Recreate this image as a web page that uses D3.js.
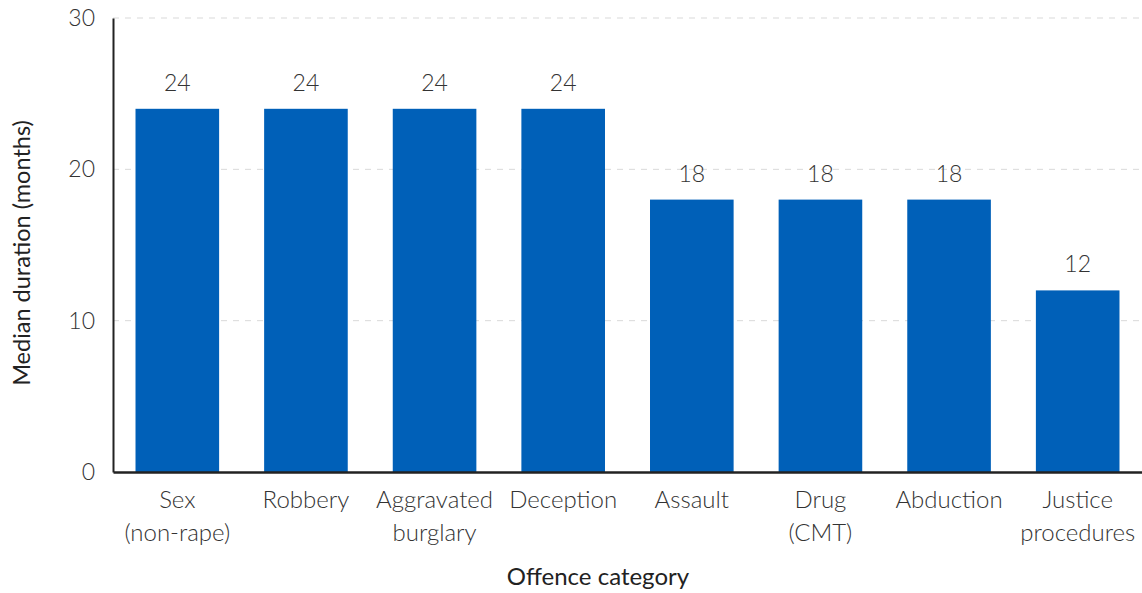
<!DOCTYPE html>
<html>
<head>
<meta charset="utf-8">
<script src="https://cdn.jsdelivr.net/npm/d3@7"></script>
<style>
  html, body { margin: 0; padding: 0; background: #fff; }
  svg { display: block; }
  text { font-family: Lato, "Open Sans", sans-serif; }
</style>
</head>
<body>
<svg id="chart" width="1142" height="593"></svg>
<script>
// Median duration of orders by offence category (months)
const categories = [
  ["Sex", "(non-rape)"],
  ["Robbery"],
  ["Aggravated", "burglary"],
  ["Deception"],
  ["Assault"],
  ["Drug", "(CMT)"],
  ["Abduction"],
  ["Justice", "procedures"]
];
const medianMonths = [24, 24, 24, 24, 18, 18, 18, 12];
const yTicks = [0, 10, 20, 30];

const W = 1142, H = 593;
const margin = { top: 18, right: 0, bottom: 121, left: 113 };
const svg = d3.select("#chart");

const keys = categories.map(c => c.join(" "));
const x = d3.scaleBand()
  .domain(keys)
  .range([margin.left, W - margin.right])
  .paddingInner(0.35)
  .paddingOuter(0.175);

const y = d3.scaleLinear()
  .domain([0, 30])
  .range([H - margin.bottom, margin.top]);

// dashed gridlines
svg.append("g")
  .selectAll("line")
  .data(yTicks.filter(d => d > 0))
  .join("line")
  .attr("x1", margin.left)
  .attr("x2", W - margin.right)
  .attr("y1", d => y(d))
  .attr("y2", d => y(d))
  .attr("stroke", "#d9d9d9")
  .attr("stroke-width", 1)
  .attr("stroke-dasharray", "6,6");

// bars
svg.append("g")
  .selectAll("rect")
  .data(medianMonths)
  .join("rect")
  .attr("x", (d, i) => x(keys[i]))
  .attr("y", d => y(d))
  .attr("width", x.bandwidth())
  .attr("height", d => y(0) - y(d))
  .attr("fill", "#0060b8");

// value labels
svg.append("g")
  .selectAll("text")
  .data(medianMonths)
  .join("text")
  .attr("x", (d, i) => x(keys[i]) + x.bandwidth() / 2)
  .attr("y", d => y(d) - 18)
  .attr("text-anchor", "middle")
  .attr("font-size", 23)
  .attr("font-weight", 300)
  .attr("fill", "#333")
  .text(d => d);

// y axis
const yAxis = d3.axisLeft(y).tickValues(yTicks).tickSize(0).tickPadding(18);
const gy = svg.append("g")
  .attr("transform", `translate(${margin.left},0)`)
  .call(yAxis);
gy.select(".domain").attr("stroke", "#222").attr("stroke-width", 2);
gy.selectAll(".tick text")
  .attr("font-size", 23)
  .attr("font-weight", 300)
  .attr("fill", "#333")
  .attr("font-family", "Lato, sans-serif");

// x axis
const xAxis = d3.axisBottom(x).tickSize(0).tickFormat("");
const gx = svg.append("g")
  .attr("transform", `translate(0,${y(0)})`)
  .call(xAxis);
gx.select(".domain").attr("stroke", "#222").attr("stroke-width", 2.5);

// category labels (two lines where needed)
svg.append("g")
  .selectAll("text")
  .data(categories)
  .join("text")
  .attr("x", (d, i) => x(keys[i]) + x.bandwidth() / 2)
  .attr("y", y(0) + 36)
  .attr("text-anchor", "middle")
  .attr("font-size", 24)
  .attr("font-weight", 300)
  .attr("fill", "#333")
  .selectAll("tspan")
  .data(d => d)
  .join("tspan")
  .attr("x", function () { return d3.select(this.parentNode).attr("x"); })
  .attr("dy", (d, i) => i === 0 ? 0 : 33)
  .text(d => d);

// axis titles
svg.append("text")
  .attr("x", 598)
  .attr("y", 585)
  .attr("text-anchor", "middle")
  .attr("font-size", 24)
  .attr("font-weight", 400)
  .attr("fill", "#222")
  .text("Offence category");

svg.append("text")
  .attr("transform", `translate(30,253) rotate(-90)`)
  .attr("text-anchor", "middle")
  .attr("font-size", 23.5)
  .attr("font-weight", 400)
  .attr("fill", "#222")
  .text("Median duration (months)");
</script>
</body>
</html>
